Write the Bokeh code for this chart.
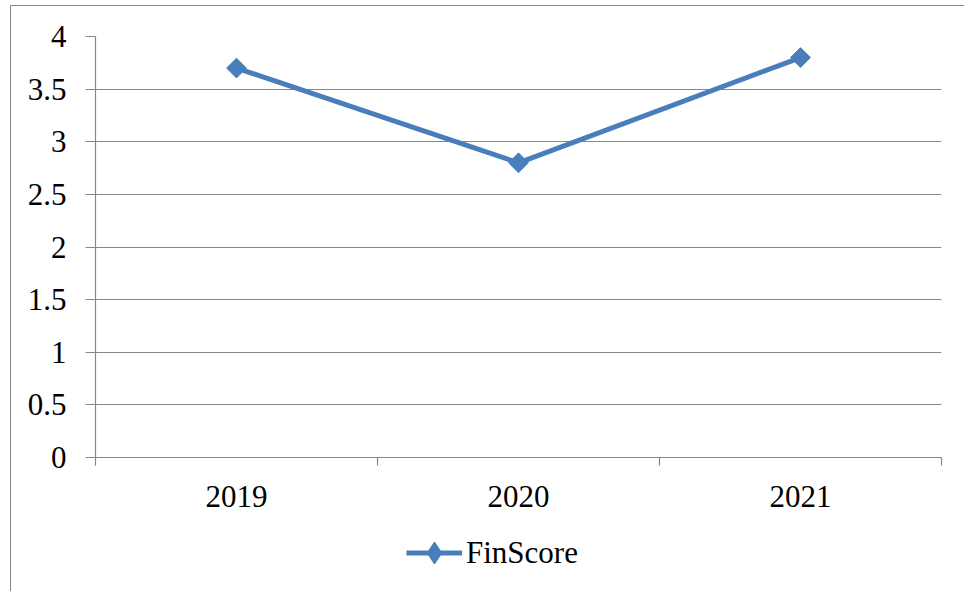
from bokeh.plotting import figure
from bokeh.layouts import column
from bokeh.models import FixedTicker, Range1d, Legend, LegendItem, InlineStyleSheet
from bokeh.embed import file_html
from bokeh.resources import INLINE
import math

# Data
years = ["2019", "2020", "2021"]
fin_score = [3.7, 2.8, 3.8]
y_ticks = [0, 0.5, 1, 1.5, 2, 2.5, 3, 3.5, 4]
y_tick_labels = ["0", "0.5", "1", "1.5", "2", "2.5", "3", "3.5", "4"]
series_name = "FinScore"

FONT = "Liberation Serif"
GRAY = "#868686"
BLUE = "#4A7EBB"

# categories sit in the middle of equal-width slots
xs = [i + 0.5 for i in range(len(years))]
slot_edges = list(range(len(years) + 1))

p = figure(width=964, height=530, output_backend="svg", toolbar_location=None,
           x_range=Range1d(0, len(years)), y_range=Range1d(0, 4),
           min_border_left=95, min_border_right=23, min_border_top=36,
           min_border_bottom=73)
p.outline_line_color = None
p.background_fill_color = "white"
p.border_fill_color = "white"

# grid
p.xgrid.visible = False
p.ygrid.ticker = FixedTicker(ticks=y_ticks)
p.ygrid.grid_line_color = GRAY
p.ygrid.grid_line_width = 1.2

# y axis
p.yaxis.ticker = FixedTicker(ticks=y_ticks)
p.yaxis.major_label_overrides = dict(zip(y_ticks, y_tick_labels))
p.yaxis.axis_line_color = GRAY
p.yaxis.axis_line_width = 1.2
p.yaxis.major_tick_line_color = GRAY
p.yaxis.major_tick_line_width = 1.2
p.yaxis.major_tick_out = 10
p.yaxis.major_tick_in = 0
p.yaxis.minor_tick_line_color = None
p.yaxis.major_label_standoff = 19
p.yaxis.major_label_text_font = FONT
p.yaxis.major_label_text_font_size = "31px"
p.yaxis.major_label_text_color = "black"

# x axis: labels at slot centres, tick marks at slot edges
p.xaxis.ticker = FixedTicker(ticks=xs, minor_ticks=slot_edges)
p.xaxis.major_label_overrides = dict(zip(xs, years))
p.xaxis.axis_line_color = GRAY
p.xaxis.axis_line_width = 1.2
p.xaxis.major_tick_line_color = None
p.xaxis.major_tick_out = 0
p.xaxis.major_tick_in = 0
p.xaxis.minor_tick_line_color = GRAY
p.xaxis.minor_tick_line_width = 1.2
p.xaxis.minor_tick_out = 8
p.xaxis.minor_tick_in = 0
p.xaxis.major_label_standoff = 20
p.xaxis.major_label_text_font = FONT
p.xaxis.major_label_text_font_size = "31px"
p.xaxis.major_label_text_color = "black"

# series
p.line(xs, fin_score, line_color=BLUE, line_width=5, line_join="round")
p.scatter(xs, fin_score, marker="square", size=14, angle=math.pi / 4,
          fill_color=BLUE, line_color=BLUE, line_width=1)

# legend strip underneath the chart (its frame lines up with the chart's frame)
lg = figure(width=964, height=61, output_backend="svg", toolbar_location=None,
            x_axis_type=None, y_axis_type=None,
            min_border_left=0, min_border_right=0, min_border_top=0,
            min_border_bottom=0)
lg.outline_line_color = None
lg.background_fill_color = "white"
lg.border_fill_color = "white"
key_line = lg.line(xs, fin_score, line_color=BLUE, line_width=5, visible=False)
key_mark = lg.scatter(xs, fin_score, marker="diamond", size=20,
                      fill_color=BLUE, line_color=BLUE, visible=False)
legend = Legend(items=[LegendItem(label=series_name, renderers=[key_line, key_mark])],
                location=(311, 11), orientation="horizontal",
                glyph_width=56, glyph_height=55, label_standoff=4,
                padding=0, margin=0, spacing=0,
                border_line_color=None, background_fill_alpha=0,
                inactive_fill_alpha=0,
                label_text_font=FONT, label_text_font_size="31px",
                label_text_color="black")
lg.add_layout(legend, "center")

# chart-area border (left and top edges)
layout = column(p, lg, spacing=0, stylesheets=[InlineStyleSheet(css="""
:host { position: relative; }
:host::after {
  content: ''; position: absolute; left: 10px; top: 5px; right: 0; bottom: 0;
  border-left: 1.5px solid #868686; border-top: 1.5px solid #868686;
  pointer-events: none;
}
""")])

open("out.html", "w").write(file_html(layout, INLINE))
